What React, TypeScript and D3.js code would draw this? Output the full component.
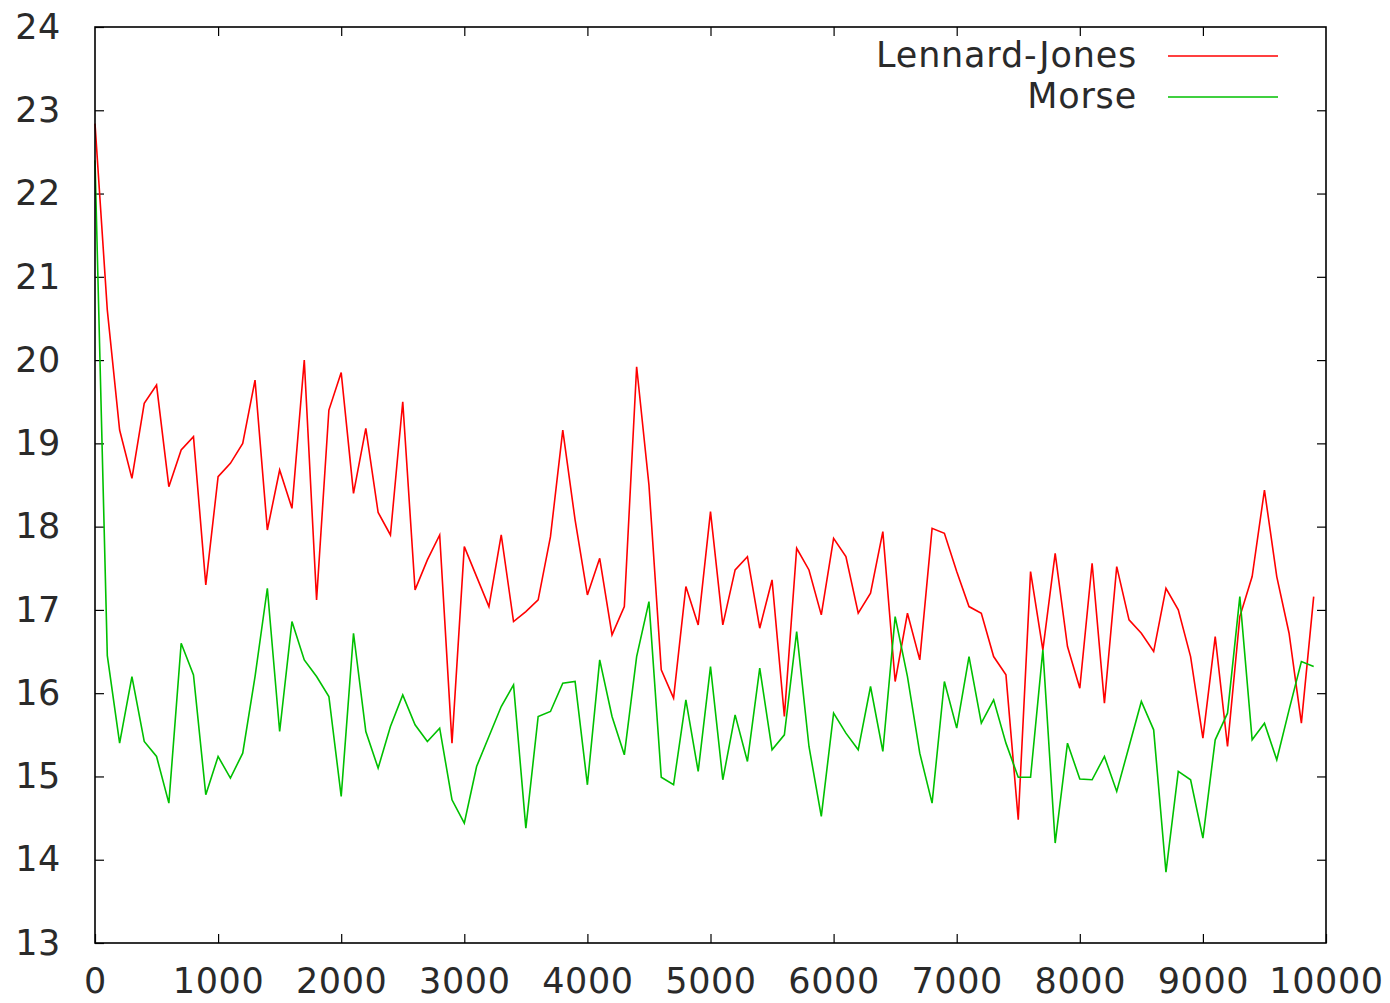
import React, { useEffect, useRef } from 'react';
import * as d3 from 'd3';

// sampled every 100 steps, from 0 to 9900
const STEP = 100;

const lennardJones = [
  22.84, 20.6, 19.16, 18.58, 19.48, 19.7, 18.48, 18.92, 19.08, 17.3,
  18.6, 18.76, 19.0, 19.76, 17.96, 18.68, 18.22, 20.0, 17.12, 19.4,
  19.85, 18.4, 19.18, 18.17, 17.9, 19.5, 17.24, 17.6, 17.9, 15.4,
  17.76, 17.4, 17.04, 17.9, 16.86, 16.98, 17.12, 17.88, 19.16, 18.08,
  17.18, 17.62, 16.7, 17.04, 19.92, 18.5, 16.28, 15.94, 17.28, 16.82,
  18.18, 16.82, 17.48, 17.64, 16.78, 17.36, 15.72, 17.74, 17.48, 16.94,
  17.86, 17.64, 16.96, 17.2, 17.94, 16.14, 16.96, 16.4, 17.98, 17.92,
  17.46, 17.04, 16.96, 16.44, 16.22, 14.48, 17.46, 16.52, 17.68, 16.56,
  16.06, 17.56, 15.88, 17.52, 16.88, 16.72, 16.5, 17.26, 17.0, 16.44,
  15.46, 16.68, 15.36, 16.92, 17.4, 18.44, 17.4, 16.72, 15.64, 17.16,
];

const morse = [
  22.4, 16.45, 15.4, 16.2, 15.42, 15.24, 14.68, 16.6, 16.22, 14.78,
  15.24, 14.98, 15.28, 16.2, 17.26, 15.54, 16.86, 16.4, 16.2, 15.96,
  14.76, 16.72, 15.54, 15.1, 15.6, 15.98, 15.62, 15.42, 15.58, 14.72,
  14.44, 15.12, 15.48, 15.84, 16.1, 14.38, 15.72, 15.78, 16.12, 16.14,
  14.9, 16.4, 15.72, 15.26, 16.44, 17.1, 14.99, 14.9, 15.92, 15.06,
  16.32, 14.96, 15.74, 15.18, 16.3, 15.32, 15.5, 16.74, 15.36, 14.52,
  15.76, 15.52, 15.32, 16.08, 15.3, 16.92, 16.2, 15.28, 14.68, 16.14,
  15.58, 16.44, 15.64, 15.92, 15.4, 14.99, 14.99, 16.52, 14.2, 15.4,
  14.97, 14.96, 15.24, 14.82, 15.36, 15.9, 15.56, 13.85, 15.06, 14.96,
  14.26, 15.44, 15.76, 17.16, 15.44, 15.64, 15.2, 15.8, 16.38, 16.32,
];

const seriesNames = ['Lennard-Jones', 'Morse'];
const seriesColors = ['#ff0000', '#00c000'];

const xTicks = [0, 1000, 2000, 3000, 4000, 5000, 6000, 7000, 8000, 9000, 10000];
const yTicks = [13, 14, 15, 16, 17, 18, 19, 20, 21, 22, 23, 24];

const FONT = '"DejaVu Sans", Verdana, sans-serif';

export default function App() {
  const ref = useRef<SVGSVGElement>(null);

  useEffect(() => {
    const width = 1390;
    const height = 1003;
    const left = 95;
    const right = 1326;
    const top = 27;
    const bottom = 943;

    const x = d3.scaleLinear().domain([0, 10000]).range([left, right]);
    const y = d3.scaleLinear().domain([13, 24]).range([bottom, top]);

    const svg = d3.select(ref.current);
    svg.selectAll('*').remove();
    svg.attr('width', width).attr('height', height);

    svg.append('rect')
      .attr('width', width)
      .attr('height', height)
      .attr('fill', '#fff');

    const styleAxis = (g, showLabels) => {
      g.select('.domain').remove();
      g.selectAll('.tick line').attr('stroke', '#000').attr('stroke-width', 1.2);
      g.selectAll('.tick text')
        .attr('fill', '#2a2a2a')
        .style('font-family', FONT)
        .style('font-size', '35px')
        .style('letter-spacing', '0.6px');
      if (!showLabels) g.selectAll('.tick text').remove();
    };

    svg.append('g')
      .attr('transform', `translate(0,${bottom})`)
      .call(d3.axisBottom(x).tickValues(xTicks).tickSize(-9).tickPadding(25).tickFormat(d3.format('d')))
      .call((g) => styleAxis(g, true));

    svg.append('g')
      .attr('transform', `translate(0,${top})`)
      .call(d3.axisTop(x).tickValues(xTicks.slice(1, -1)).tickSize(-9))
      .call((g) => styleAxis(g, false));

    svg.append('g')
      .attr('transform', `translate(${left},0)`)
      .call(d3.axisLeft(y).tickValues(yTicks).tickSize(-9).tickPadding(34).tickFormat(d3.format('d')))
      .call((g) => styleAxis(g, true));

    svg.append('g')
      .attr('transform', `translate(${right},0)`)
      .call(d3.axisRight(y).tickValues(yTicks.slice(1, -1)).tickSize(-9))
      .call((g) => styleAxis(g, false));

    const line = d3.line<number>()
      .x((d, i) => x(i * STEP))
      .y((d) => y(d));

    [lennardJones, morse].forEach((data, k) => {
      svg.append('path')
        .datum(data)
        .attr('fill', 'none')
        .attr('stroke', seriesColors[k])
        .attr('stroke-width', 1.6)
        .attr('stroke-linejoin', 'miter')
        .attr('d', line);
    });

    // frame
    svg.append('rect')
      .attr('x', left)
      .attr('y', top)
      .attr('width', right - left)
      .attr('height', bottom - top)
      .attr('fill', 'none')
      .attr('stroke', '#000')
      .attr('stroke-width', 1.6);

    // legend
    const legend = svg.append('g');
    seriesNames.forEach((name, k) => {
      const ly = 56 + k * 41;
      legend.append('text')
        .attr('x', 1137)
        .attr('y', ly + 11)
        .attr('text-anchor', 'end')
        .attr('fill', '#2a2a2a')
        .style('font-family', FONT)
        .style('font-size', '35px')
        .style('letter-spacing', '0.8px')
        .text(name);
      legend.append('line')
        .attr('x1', 1168)
        .attr('x2', 1278)
        .attr('y1', ly)
        .attr('y2', ly)
        .attr('stroke', seriesColors[k])
        .attr('stroke-width', 1.6);
    });
  }, []);

  return (
    <svg ref={ref} style={{ position: 'absolute', left: 0, top: 0, display: 'block' }} />
  );
}
